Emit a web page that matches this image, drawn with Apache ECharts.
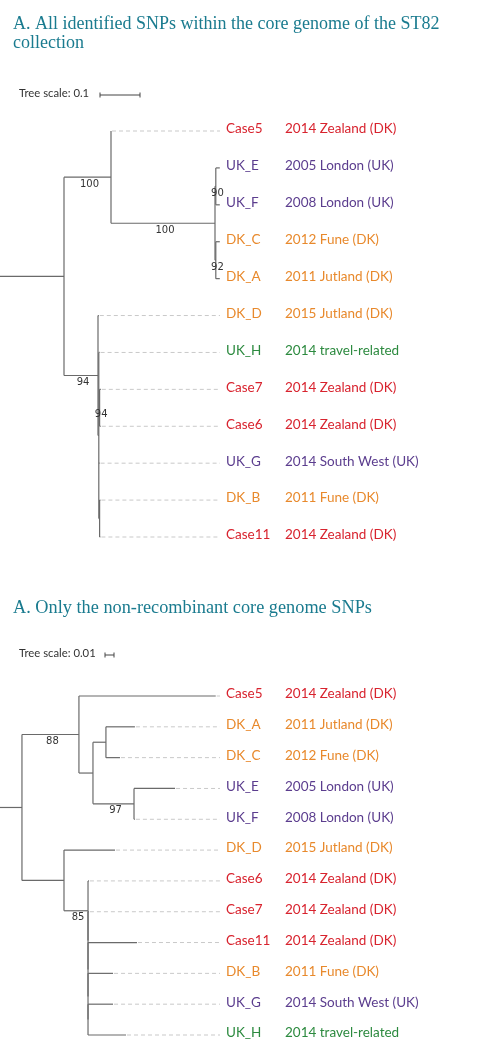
<!DOCTYPE html>
<html><head><meta charset="utf-8">
<script src="https://cdn.jsdelivr.net/npm/echarts@6/dist/echarts.min.js"></script>
<style>html,body{margin:0;padding:0;background:#fff}#c{width:482px;height:1045px}</style>
</head><body><div id="c"></div>
<script>
// ---------------- DATA ----------------
const titles = [
  ['A. All identified SNPs within the core genome of the ST82', 'collection'],
  ['A. Only the non-recombinant core genome SNPs']
];
const treeScaleLabels = ['Tree scale: 0.1', 'Tree scale: 0.01'];
const treeScaleValues = [0.1, 0.01];
// Tree topologies (Newick: branch lengths in substitutions/site, internal labels = bootstrap)
const tree1Newick = "((Case5:0,((UK_E:0.01,UK_F:0.01)90:0.002,(DK_C:0.01,DK_A:0.01)92:0.002)100:0.26)100:0.1175,(DK_D:0.002,(UK_H:0.002,(Case7:0.003,Case6:0.003)94:0.002,UK_G:0.002,(DK_B:0.002,Case11:0.002):0.002):0.002)94:0.085):0.16;";
const tree2Newick = "((Case5:0.152,((DK_A:0.0322,DK_C:0.0156):0.0144,(UK_E:0.0456,UK_F:0.001)97:0.0456):0.0156)88:0.0633,(DK_D:0.0567,(Case6:0.001,(Case7:0.001,(Case11:0.0544,(DK_B:0.0278,(UK_G:0.0278,UK_H:0.0422):0):0):0):0)85:0.0267):0.0467):0.0244;";
const isolates = ['Case5','Case6','Case7','Case11','UK_E','UK_F','UK_G','UK_H','DK_A','DK_B','DK_C','DK_D'];
const origins  = ['2014 Zealand (DK)','2014 Zealand (DK)','2014 Zealand (DK)','2014 Zealand (DK)',
                  '2005 London (UK)','2008 London (UK)','2014 South West (UK)','2014 travel-related',
                  '2011 Jutland (DK)','2011 Fune (DK)','2012 Fune (DK)','2015 Jutland (DK)'];
const groups   = ['case','case','case','case','uk','uk','uk','travel','dk','dk','dk','dk'];
const groupColors = {case:'#d8232e', uk:'#5b3d8e', travel:'#2c8a3f', dk:'#e8892c'};

// ---------------- LAYOUT CONSTANTS ----------------
const W = 482;
const pxPerUnit = [400, 900];
const gridTop = [131, 696], gridH = [406, 339];
const DASH_END = 220, NAME_X = 226, DESC_X = 285;
const scaleTextY = [93, 653], scaleBarX = [100, 105];
const titleY = [[28, 47], [612]];
const titleSize = [18, 18.3];
const BRANCH = '#6a6a6a';

// ---------------- NEWICK PARSER ----------------
function parseNewick(s) {
  let i = 0;
  function node() {
    const n = {children: [], name: '', len: 0};
    if (s[i] === '(') {
      i++;
      n.children.push(node());
      while (s[i] === ',') { i++; n.children.push(node()); }
      i++; // ')'
    }
    let name = '';
    while (i < s.length && !':,();'.includes(s[i])) name += s[i++];
    n.name = name;
    if (s[i] === ':') {
      i++; let num = '';
      while (i < s.length && !',();'.includes(s[i])) num += s[i++];
      n.len = parseFloat(num);
    }
    return n;
  }
  return node();
}

function layoutTree(newick) {
  const root = parseNewick(newick);
  const segs = [], leaves = [], boots = [];
  let idx = 0;
  function walk(n, px) {
    n.x = px + n.len;
    segs.push([px, 0, n.x, 0, n]); // y filled later
    if (!n.children.length) {
      n.y = idx++;
      leaves.push([n.x, n.y, isolates.indexOf(n.name)]);
    } else {
      n.children.forEach(c => walk(c, n.x));
      n.y = (n.children[0].y + n.children[n.children.length - 1].y) / 2;
      segs.push([n.x, n.children[0].y, n.x, n.children[n.children.length - 1].y]);
      if (n.name) boots.push([(px + n.x) / 2, n.y, n.name]);
    }
  }
  walk(root, 0);
  const out = segs.map(s => s.length === 5 ? [s[0], s[4].y, s[2], s[4].y] : s);
  return {segs: out, leaves, boots};
}

const trees = [layoutTree(tree1Newick), layoutTree(tree2Newick)];

// ---------------- CHART ----------------
const chart = echarts.init(document.getElementById('c'), null, {renderer: 'canvas'});
const grids = [], xAxes = [], yAxes = [], series = [];
trees.forEach((t, k) => {
  grids.push({left: 0, width: W, top: gridTop[k], height: gridH[k]});
  xAxes.push({type: 'value', gridIndex: k, min: 0, max: W / pxPerUnit[k], show: false});
  yAxes.push({type: 'value', gridIndex: k, min: 0, max: 11, inverse: true, show: false});
  // branches
  series.push({
    type: 'custom', xAxisIndex: k, yAxisIndex: k, data: t.segs, silent: true,
    renderItem(p, api) {
      const a = api.coord([api.value(0), api.value(1)]);
      const b = api.coord([api.value(2), api.value(3)]);
      return {type: 'line', shape: {x1: a[0], y1: a[1], x2: b[0], y2: b[1]},
        style: {stroke: BRANCH, lineWidth: 1.2}};
    }
  });
  // leaves: dashed guide + labels
  series.push({
    type: 'custom', xAxisIndex: k, yAxisIndex: k, data: t.leaves, silent: true,
    renderItem(p, api) {
      const a = api.coord([api.value(0), api.value(1)]);
      const iso = api.value(2);
      const col = groupColors[groups[iso]];
      const ch = [];
      if (a[0] < DASH_END - 3) ch.push({type: 'line',
        shape: {x1: a[0] + 1, y1: a[1], x2: DASH_END, y2: a[1]},
        style: {stroke: '#c9c9c9', lineWidth: 1, lineDash: [4, 3]}});
      ch.push({type: 'text', x: NAME_X, y: a[1] - 2, style: {text: isolates[iso], fill: col,
        font: '13.5px Lato', verticalAlign: 'middle', align: 'left'}});
      ch.push({type: 'text', x: DESC_X, y: a[1] - 2, style: {text: origins[iso], fill: col,
        font: '13.5px Lato', verticalAlign: 'middle', align: 'left'}});
      return {type: 'group', children: ch};
    }
  });
  // bootstrap values
  series.push({
    type: 'custom', xAxisIndex: k, yAxisIndex: k, data: t.boots, silent: true,
    renderItem(p, api) {
      const a = api.coord([api.value(0), api.value(1)]);
      return {type: 'text', x: a[0] + 2, y: a[1] + 7, style: {text: String(t.boots[p.dataIndex][2]),
        fill: '#333', font: '10px "DejaVu Sans"', align: 'center', verticalAlign: 'middle'}};
    }
  });
  // tree scale bar
  series.push({
    type: 'custom', xAxisIndex: k, yAxisIndex: k, data: [[treeScaleValues[k]]], silent: true,
    renderItem(p, api) {
      const len = api.coord([api.value(0), 0])[0] - api.coord([0, 0])[0];
      const x0 = scaleBarX[k], y = scaleTextY[k] + 2;
      return {type: 'group', children: [
        {type: 'text', x: 19, y: scaleTextY[k], style: {text: treeScaleLabels[k], fill: '#333',
          font: '11.3px Lato', verticalAlign: 'middle'}},
        {type: 'line', shape: {x1: x0, y1: y, x2: x0 + len, y2: y}, style: {stroke: '#444', lineWidth: 1}},
        {type: 'line', shape: {x1: x0, y1: y - 2.5, x2: x0, y2: y + 2.5}, style: {stroke: '#444', lineWidth: 1}},
        {type: 'line', shape: {x1: x0 + len, y1: y - 2.5, x2: x0 + len, y2: y + 2.5}, style: {stroke: '#444', lineWidth: 1}}
      ]};
    }
  });
});

const graphic = [];
titles.forEach((lines, k) => lines.forEach((txt, j) => graphic.push({
  type: 'text', left: 13, top: titleY[k][j] - 13,
  style: {text: txt, fill: '#1a7b8f', font: titleSize[k] + 'px "Liberation Serif"'}
})));

chart.setOption({
  animation: false, backgroundColor: '#fff',
  grid: grids, xAxis: xAxes, yAxis: yAxes, series, graphic
});
</script></body></html>
